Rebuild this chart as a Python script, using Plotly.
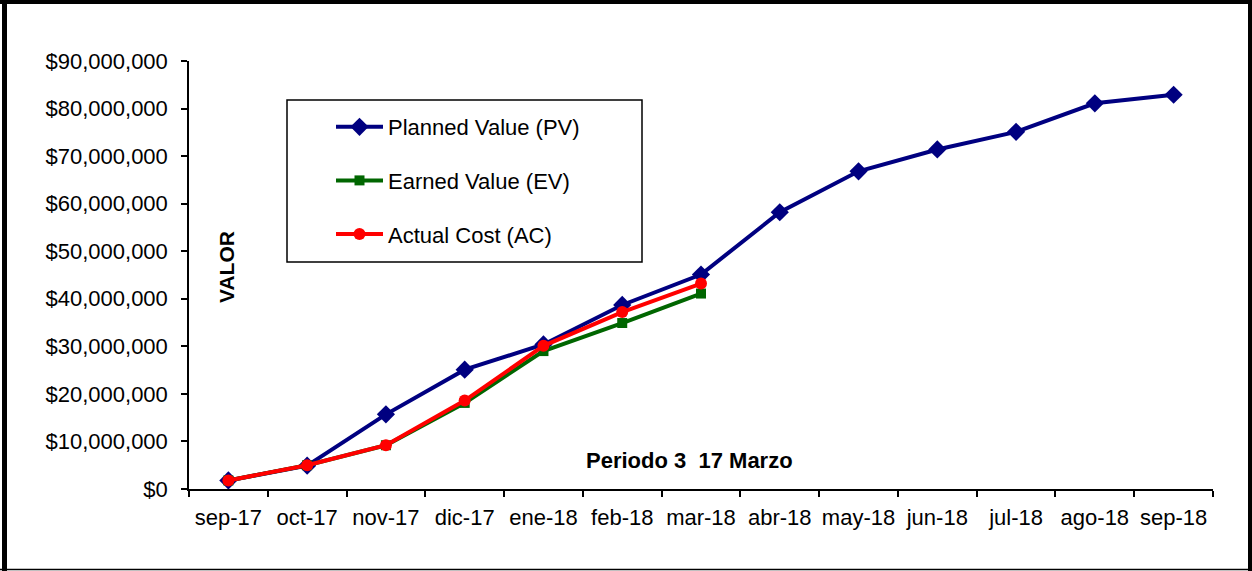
import plotly.graph_objects as go

# Data (values in pesos)
months = ["sep-17", "oct-17", "nov-17", "dic-17", "ene-18", "feb-18", "mar-18",
          "abr-18", "may-18", "jun-18", "jul-18", "ago-18", "sep-18"]
planned_value = [1800000, 4900000, 15700000, 25100000, 30400000, 38700000, 45100000,
                 58200000, 66800000, 71400000, 75100000, 81100000, 82900000]
earned_value = [1800000, 5000000, 9200000, 18100000, 29000000, 34900000, 41100000]
actual_cost = [1800000, 5000000, 9200000, 18600000, 30100000, 37200000, 43200000]

W, H = 1252, 571
L, R, T, B = 189, 39, 61, 82
FONT = "Liberation Sans, Arial, sans-serif"


def px_x(p):
    return (p - L) / (W - L - R)


def px_y(p):
    return (H - B - p) / (H - T - B)


fig = go.Figure()
fig.add_trace(go.Scatter(
    x=months, y=planned_value, name="Planned Value (PV)", mode="lines+markers",
    line=dict(color="#000080", width=4), marker=dict(symbol="diamond", size=14, color="#000080"),
    legendgroup="pv"))
fig.add_trace(go.Scatter(
    x=months[:len(earned_value)], y=earned_value, name="Earned Value (EV)", mode="lines+markers",
    line=dict(color="#006600", width=4), marker=dict(symbol="square", size=10, color="#006600"),
    legendgroup="ev"))
fig.add_trace(go.Scatter(
    x=months[:len(actual_cost)], y=actual_cost, name="Actual Cost (AC)", mode="lines+markers",
    line=dict(color="#FF0000", width=4), marker=dict(symbol="circle", size=12, color="#FF0000"),
    legendgroup="ac"))

fig.update_xaxes(
    type="category", range=[-0.5, 12.5], tickson="boundaries", ticks="outside", ticklen=6,
    tickwidth=1.5, tickcolor="black", showline=True, linecolor="black", linewidth=1.5,
    showgrid=False, zeroline=False, ticklabelstandoff=8, tickangle=0, automargin=False,
    tickfont=dict(family=FONT, size=22, color="black"))
fig.update_yaxes(
    range=[0, 90000000], dtick=10000000, tickprefix="$", tickformat=",d", ticks="outside",
    ticklen=6, tickwidth=1.5, tickcolor="black", showline=True, linecolor="black", linewidth=1.5,
    showgrid=False, zeroline=False, ticklabelstandoff=9, automargin=False,
    tickfont=dict(family=FONT, size=22, color="black"))

# Legend box, drawn as its own frame
fig.add_shape(type="rect", xref="paper", yref="paper",
              x0=px_x(287), x1=px_x(642), y0=px_y(262), y1=px_y(100),
              line=dict(color="black", width=1.5), fillcolor="white", layer="below")

# Outer chart border
fig.add_shape(type="line", xref="paper", yref="paper", x0=px_x(4.5), x1=px_x(4.5),
              y0=px_y(0), y1=px_y(571), line=dict(color="black", width=5))
fig.add_shape(type="line", xref="paper", yref="paper", x0=px_x(0), x1=px_x(1252),
              y0=px_y(2), y1=px_y(2), line=dict(color="black", width=4))
fig.add_shape(type="line", xref="paper", yref="paper", x0=px_x(1250), x1=px_x(1250),
              y0=px_y(0), y1=px_y(571), line=dict(color="black", width=4))
fig.add_shape(type="line", xref="paper", yref="paper", x0=px_x(0), x1=px_x(1252),
              y0=px_y(569.5), y1=px_y(569.5), line=dict(color="black", width=1.5))

fig.add_annotation(text="<b>VALOR</b>", xref="paper", yref="paper", x=px_x(226), y=px_y(267),
                   xanchor="center", yanchor="middle", textangle=-90, showarrow=False,
                   font=dict(family=FONT, size=21, color="black"))
fig.add_annotation(text="<b>Periodo 3\u00a0\u00a017 Marzo</b>", xref="paper", yref="paper",
                   x=px_x(689.5), y=px_y(460), xanchor="center", yanchor="middle", showarrow=False,
                   font=dict(family=FONT, size=22, color="black"))

fig.update_layout(
    width=W, height=H,
    margin=dict(l=L, r=R, t=T, b=B, autoexpand=False),
    paper_bgcolor="white", plot_bgcolor="white",
    font=dict(family=FONT, color="black"),
    legend=dict(x=px_x(331), y=px_y(106), xanchor="left", yanchor="top",
                bgcolor="rgba(0,0,0,0)", borderwidth=0, tracegroupgap=22, itemwidth=47,
                font=dict(family=FONT, size=22, color="black")),
)

# the page's default body margin would shift the whole chart by 8px
fig.write_html("out.html", config={"displayModeBar": False},
               post_script="document.body.style.margin='0';document.body.style.overflow='hidden';")
